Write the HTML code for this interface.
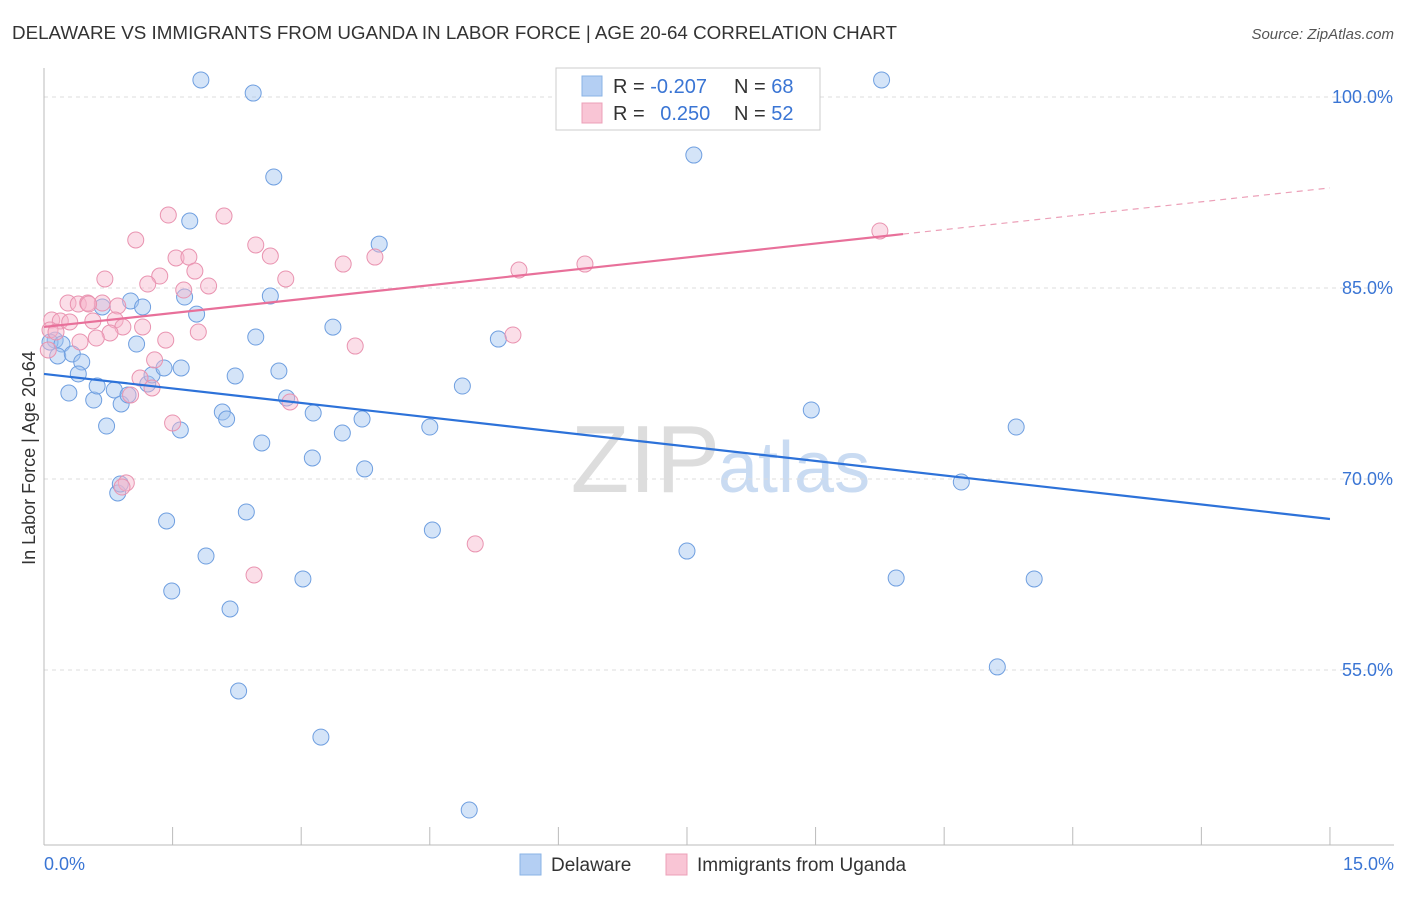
<!DOCTYPE html>
<html><head><meta charset="utf-8">
<style>
body{margin:0;background:#fff;font-family:"Liberation Sans",sans-serif;}
svg text{font-family:"Liberation Sans",sans-serif;}
</style></head>
<body>
<svg id="chart" width="1406" height="892" viewBox="0 0 1406 892">
<text x="12" y="39" font-size="18" fill="#333" textLength="885" lengthAdjust="spacingAndGlyphs">DELAWARE VS IMMIGRANTS FROM UGANDA IN LABOR FORCE | AGE 20-64 CORRELATION CHART</text>
<text x="1394" y="39" font-size="15" fill="#555" font-style="italic" text-anchor="end">Source: ZipAtlas.com</text>
<text x="720" y="492" font-size="96" fill="#ddd" font-family="Liberation Serif" text-anchor="end">ZIP</text>
<text x="718" y="492" font-size="72" fill="#c9dbf2">atlas</text>
<g id="grid"></g>
<g id="axes"></g>
<g id="pts"></g>
<g id="trends"></g>
<text x="35" y="458" font-size="18" fill="#333" text-anchor="middle" transform="rotate(-90 35 458)">In Labor Force | Age 20-64</text>
<g>
<rect x="556" y="68" width="264" height="62" fill="#fff" stroke="#ccc"/>
<rect x="582" y="76" width="20" height="20" fill="#b4cff3" stroke="#8ab3e6"/>
<rect x="582" y="103" width="20" height="20" fill="#f9c5d5" stroke="#eca0b8"/>
<text x="613" y="93" font-size="20" fill="#333">R = <tspan fill="#3a75d4">-0.207</tspan></text>
<text x="734" y="93" font-size="20" fill="#333">N = <tspan fill="#3a75d4">68</tspan></text>
<text x="613" y="120" font-size="20" fill="#333">R = <tspan fill="#3a75d4" dx="10">0.250</tspan></text>
<text x="734" y="120" font-size="20" fill="#333">N = <tspan fill="#3a75d4">52</tspan></text>
</g>
<g>
<rect x="520" y="854" width="21" height="21" fill="#b4cff3" stroke="#8ab3e6"/>
<text x="551" y="871" font-size="19" fill="#333">Delaware</text>
<rect x="666" y="854" width="21" height="21" fill="#f9c5d5" stroke="#eca0b8"/>
<text x="697" y="871" font-size="19" fill="#333">Immigrants from Uganda</text>
</g>
</svg>
<script>
const yTicks=[100,85,70,55];
const yTickLabels=["100.0%","85.0%","70.0%","55.0%"];
const xEndLabels=["0.0%","15.0%"];
const blueX=[1.83,2.44,2.68,1.70,3.91,1.01,1.15,0.68,1.64,1.78,2.64,3.37,5.30,2.47,1.08,0.13,0.07,0.21,0.16,0.33,0.44,0.40,0.29,0.58,0.62,0.82,0.90,0.98,1.21,1.26,1.40,1.60,2.23,2.74,2.83,2.08,2.13,3.14,3.71,3.48,1.59,0.73,2.54,3.13,3.74,4.50,4.88,0.86,1.43,2.36,1.89,4.53,3.02,1.49,2.17,2.27,3.23,4.96,7.58,9.77,8.95,11.34,10.70,7.50,9.94,11.55,11.12,0.89];
const blueY=[101.34,100.31,93.72,90.26,88.45,83.98,83.51,83.51,84.29,82.95,84.37,81.93,80.99,81.15,80.60,80.91,80.75,80.60,79.66,79.82,79.19,78.25,76.75,76.20,77.30,76.99,75.89,76.60,77.46,78.17,78.72,78.72,78.09,78.48,76.36,75.26,74.71,75.18,74.71,73.61,73.85,74.16,72.83,71.65,70.79,74.08,77.30,68.90,66.70,67.41,63.95,65.99,62.15,61.20,59.79,53.35,49.73,44.00,95.44,101.34,75.42,74.08,69.76,64.34,62.22,62.15,55.24,69.61];
const pinkX=[1.45,2.10,1.07,2.47,2.64,1.54,1.69,1.76,1.35,0.71,1.21,2.82,3.49,3.86,5.54,6.31,9.75,1.92,1.63,0.28,0.40,0.51,0.68,0.86,0.57,0.83,0.92,1.15,0.77,0.09,0.19,0.07,0.14,0.42,0.61,1.42,1.80,5.47,3.63,1.29,1.12,1.26,1.01,1.50,2.87,0.96,0.91,2.45,5.03,0.05,0.30,0.52];
const pinkY=[90.73,90.65,88.77,88.38,87.51,87.36,87.43,86.33,85.94,85.71,85.31,85.71,86.88,87.43,86.41,86.88,89.48,85.16,84.84,83.82,83.74,83.82,83.82,83.59,82.41,82.49,81.94,81.94,81.47,82.49,82.41,81.70,81.54,80.76,81.07,80.91,81.54,81.31,80.44,79.35,77.93,77.15,76.60,74.40,76.05,69.69,69.37,62.46,64.90,80.13,82.33,83.74];
const blueTrend=[78.25,66.86];
const pinkTrend=[81.94,92.86];
const pinkSolidEnd=10.02;

const NS="http://www.w3.org/2000/svg";
const X=v=>44+v*85.73;
const Y=v=>97+(100-v)*12.733;
function mk(tag,attrs,parent){const e=document.createElementNS(NS,tag);for(const k in attrs)e.setAttribute(k,attrs[k]);parent.appendChild(e);return e;}
const grid=document.getElementById('grid'),axes=document.getElementById('axes'),pts=document.getElementById('pts'),tr=document.getElementById('trends');
yTicks.forEach((t,i)=>{
  const l=mk('line',{x1:44,x2:1394,y1:Y(t),y2:Y(t),stroke:'#ddd','stroke-dasharray':'4 4'},grid);
  
  
  const tx=mk('text',{x:1393,y:Y(t)+6,'font-size':18,fill:'#3a75d4','text-anchor':'end'},axes);
  tx.textContent=yTickLabels[i];
  
  
});
const ax=mk('line',{x1:44,x2:44,y1:68,y2:845,stroke:'#bbb'},axes);


const bx=mk('line',{x1:44,x2:1394,y1:845,y2:845,stroke:'#bbb'},axes);


for(let i=0;i<=10;i++){
  const t=mk('line',{x1:X(i*1.5),x2:X(i*1.5),y1:827,y2:845,stroke:'#bbb'},axes);
  
  
}
[[0,'start',44],[1,'end',1394]].forEach(([i,a,x])=>{
  const t=mk('text',{x:x,y:870,'font-size':18,fill:'#3a75d4','text-anchor':a},axes);
  t.textContent=xEndLabels[i];
  
  
});
blueX.forEach((v,i)=>{
  const c=mk('circle',{cx:X(v),cy:Y(blueY[i]),r:8,fill:'rgba(160,196,240,0.45)',stroke:'#6f9fe0','stroke-width':1},pts);
  
  
});
pinkX.forEach((v,i)=>{
  const c=mk('circle',{cx:X(v),cy:Y(pinkY[i]),r:8,fill:'rgba(246,182,204,0.45)',stroke:'#e993b0','stroke-width':1},pts);
  
  
});
const bl=mk('line',{x1:X(0),y1:Y(blueTrend[0]),x2:X(15),y2:Y(blueTrend[1]),stroke:'#2d72d9','stroke-width':2.2},tr);


const py=x=>pinkTrend[0]+(pinkTrend[1]-pinkTrend[0])*x/15;
const pl=mk('line',{x1:X(0),y1:Y(pinkTrend[0]),x2:X(pinkSolidEnd),y2:Y(py(pinkSolidEnd)),stroke:'#e8709a','stroke-width':2.2},tr);


const pd=mk('line',{x1:X(pinkSolidEnd),y1:Y(py(pinkSolidEnd)),x2:X(15),y2:Y(pinkTrend[1]),stroke:'#eca0b8','stroke-width':1.2,'stroke-dasharray':'6 5'},tr);


</script>
</body></html>
